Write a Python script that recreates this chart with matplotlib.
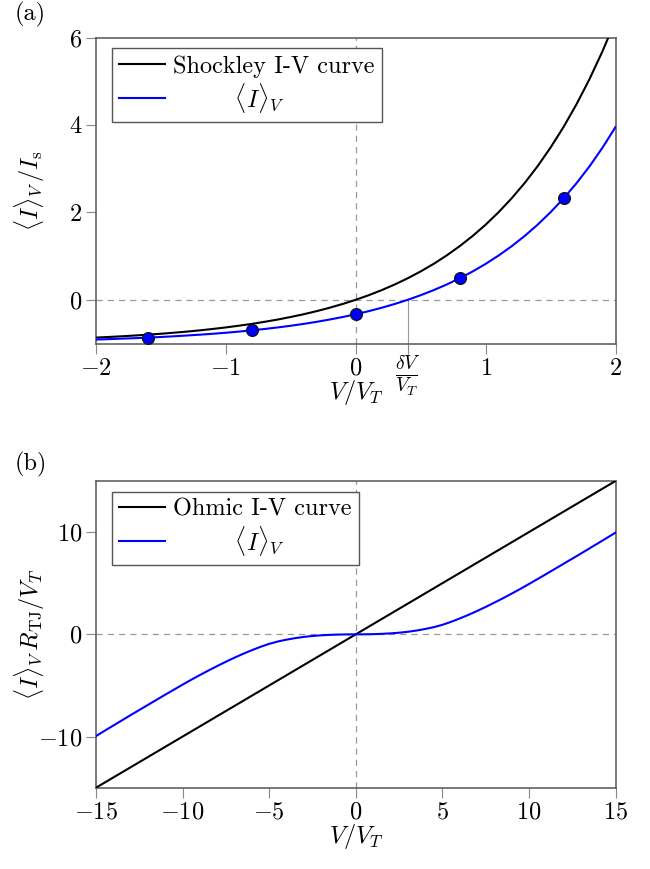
import matplotlib
matplotlib.use("Agg")
import matplotlib.pyplot as plt
from matplotlib.transforms import ScaledTranslation

plt.rcParams['mathtext.fontset'] = 'cm'
plt.rcParams['font.family'] = ['cmr10', 'DejaVu Serif']
plt.rcParams['axes.unicode_minus'] = False

# ---------------- Panel (a) data ----------------
x_a = [-2.0, -1.9, -1.8, -1.7, -1.6, -1.5, -1.4, -1.3, -1.2, -1.1, -1.0,
       -0.9, -0.8, -0.7, -0.6, -0.5, -0.4, -0.3, -0.2, -0.1, 0.0,
       0.1, 0.2, 0.3, 0.4, 0.5, 0.6, 0.7, 0.8, 0.9, 1.0,
       1.1, 1.2, 1.3, 1.4, 1.5, 1.6, 1.7, 1.8, 1.9, 2.0]
shockley = [-0.865, -0.850, -0.835, -0.817, -0.798, -0.777, -0.753, -0.728, -0.699, -0.667, -0.632,
            -0.593, -0.551, -0.503, -0.451, -0.393, -0.330, -0.259, -0.181, -0.095, 0.000,
            0.105, 0.221, 0.350, 0.492, 0.649, 0.822, 1.014, 1.226, 1.460, 1.718,
            2.004, 2.320, 2.669, 3.055, 3.482, 3.953, 4.474, 5.050, 5.686, 6.389]
avg_a = [-0.909, -0.900, -0.889, -0.878, -0.865, -0.851, -0.835, -0.817, -0.798, -0.777, -0.754,
         -0.728, -0.699, -0.667, -0.632, -0.594, -0.551, -0.504, -0.451, -0.394, -0.330,
         -0.260, -0.182, -0.096, -0.001, 0.105, 0.221, 0.349, 0.491, 0.648, 0.821,
         1.013, 1.224, 1.458, 1.717, 2.003, 2.319, 2.668, 3.053, 3.480, 3.951]
dots_x = [-1.6, -0.8, 0.0, 0.8, 1.6]
dots_y = [-0.865, -0.699, -0.330, 0.491, 2.319]
deltaV = 0.4
xticks_a = [-2, -1, 0, 0.4, 1, 2]
xticklabels_a = [r'$-2$', r'$-1$', r'$0$', r'$\frac{\delta V}{V_T}$', r'$1$', r'$2$']
yticks_a = [0, 2, 4, 6]
yticklabels_a = [r'$0$', r'$2$', r'$4$', r'$6$']

# ---------------- Panel (b) data ----------------
x_b = [-15, -14.5, -14, -13.5, -13, -12.5, -12, -11.5, -11, -10.5, -10,
       -9.5, -9, -8.5, -8, -7.5, -7, -6.5, -6, -5.5, -5,
       -4.5, -4, -3.5, -3, -2.5, -2, -1.5, -1, -0.5, 0,
       0.5, 1, 1.5, 2, 2.5, 3, 3.5, 4, 4.5, 5,
       5.5, 6, 6.5, 7, 7.5, 8, 8.5, 9, 9.5, 10,
       10.5, 11, 11.5, 12, 12.5, 13, 13.5, 14, 14.5, 15]
ohmic_x = [-15, 15]
ohmic = [-15, 15]
avg_b = [-9.95, -9.43, -8.92, -8.41, -7.90, -7.40, -6.90, -6.40, -5.90, -5.41, -4.92,
         -4.44, -3.98, -3.53, -3.10, -2.68, -2.28, -1.90, -1.55, -1.22, -0.93,
         -0.70, -0.52, -0.37, -0.25, -0.16, -0.095, -0.05, -0.02, -0.005, 0.0,
         0.005, 0.02, 0.05, 0.095, 0.16, 0.25, 0.37, 0.52, 0.70, 0.93,
         1.22, 1.55, 1.90, 2.28, 2.68, 3.10, 3.53, 3.98, 4.44, 4.92,
         5.41, 5.90, 6.40, 6.90, 7.40, 7.90, 8.41, 8.92, 9.43, 9.95]
xticks_b = [-15, -10, -5, 0, 5, 10, 15]
xticklabels_b = [r'$-15$', r'$-10$', r'$-5$', r'$0$', r'$5$', r'$10$', r'$15$']
yticks_b = [-10, 0, 10]
yticklabels_b = [r'$-10$', r'$0$', r'$10$']

FS = 17.5
W, H = 650, 869
fig = plt.figure(figsize=(W / 100, H / 100), dpi=100)

def frac_rect(l, t, r, b):
    return [l / W, 1 - b / H, (r - l) / W, (b - t) / H]

ax1 = fig.add_axes(frac_rect(96, 37.5, 615.5, 343.5))
ax2 = fig.add_axes(frac_rect(96, 481, 615.5, 787.7))

spine_col = '#555555'
grid_col = '#9a9a9a'

def style(ax):
    for s in ax.spines.values():
        s.set_color(spine_col)
        s.set_linewidth(1.1)
    ax.tick_params(direction='out', length=7, width=0.8, color='#888888',
                   labelsize=FS, top=False, right=False, pad=3)

# Panel (a)
ax1.axhline(0, color=grid_col, lw=0.9, ls=(0, (5, 4)), zorder=1)
ax1.axvline(0, color=grid_col, lw=0.9, ls=(0, (5, 4)), zorder=1)
ax1.plot([deltaV, deltaV], [-1, 0], color='#999999', lw=0.8, zorder=1)
ax1.plot(x_a, shockley, color='black', lw=1.5, label='Shockley I-V curve', zorder=3)
ax1.plot(x_a, avg_a, color='#0000ff', lw=1.5, label=r'$\hspace{2.9}\langle I\rangle_V$', zorder=3)
ax1.plot(dots_x, dots_y, 'o', ms=8.5, mfc='#0000ff', mec='#111111', mew=0.9, zorder=4)
ax1.set_xlim(-2, 2)
ax1.set_ylim(-1, 6)
ax1.set_xticks(xticks_a)
ax1.set_xticklabels(xticklabels_a)
ax1.set_yticks(yticks_a)
ax1.set_yticklabels(yticklabels_a)
style(ax1)
frac_lbl = ax1.get_xticklabels()[3]
frac_lbl.set_fontsize(FS * 1.15)
frac_lbl.set_transform(frac_lbl.get_transform() + ScaledTranslation(0, 3 / 100, fig.dpi_scale_trans))
ax1.set_xlabel(r'$V/V_T$', fontsize=FS, va='top')
ax1.xaxis.set_label_coords(0.5, (343.5 - 378) / 306)
ax1.set_ylabel(r'$\langle I\rangle_V\,/I_\mathrm{s}$', fontsize=FS, va='center')
ax1.yaxis.set_label_coords((30 - 96) / 519.5, 0.5)

# Panel (b)
ax2.axhline(0, color=grid_col, lw=0.9, ls=(0, (5, 4)), zorder=1)
ax2.axvline(0, color=grid_col, lw=0.9, ls=(0, (5, 4)), zorder=1)
ax2.plot(ohmic_x, ohmic, color='black', lw=1.5, label='Ohmic I-V curve', zorder=3)
ax2.plot(x_b, avg_b, color='#0000ff', lw=1.5, label=r'$\hspace{2.9}\langle I\rangle_V$', zorder=3)
ax2.set_xlim(-15, 15)
ax2.set_ylim(-15, 15)
ax2.set_xticks(xticks_b)
ax2.set_xticklabels(xticklabels_b)
ax2.set_yticks(yticks_b)
ax2.set_yticklabels(yticklabels_b)
style(ax2)
ax2.set_xlabel(r'$V/V_T$', fontsize=FS, va='top')
ax2.xaxis.set_label_coords(0.5, (787.7 - 822) / 306.7)
ax2.set_ylabel(r'$\langle I\rangle_V\,R_\mathrm{TJ}/V_T$', fontsize=FS, va='center')
ax2.yaxis.set_label_coords((30 - 96) / 519.5, 0.5)

for ax in (ax1, ax2):
    leg = ax.legend(loc='upper left', bbox_to_anchor=(16 / 519.5, 1 - 10.5 / 306),
                    borderaxespad=0, fontsize=FS, fancybox=False, framealpha=1,
                    edgecolor=spine_col, handlelength=1.9, handletextpad=0.3,
                    labelspacing=0.12, borderpad=0.3)
    leg.get_frame().set_linewidth(1.0)

fig.text(15 / W, 1 - 2 / H, '(a)', fontsize=FS, va='top', ha='left')
fig.text(15 / W, 1 - 452 / H, '(b)', fontsize=FS, va='top', ha='left')

fig.savefig('out.png', dpi=100)
